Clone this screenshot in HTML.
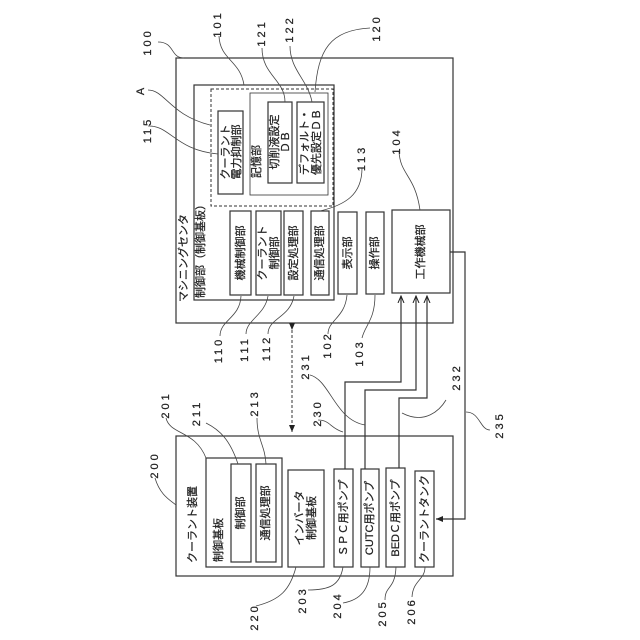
<!DOCTYPE html>
<html><head><meta charset="utf-8"><style>
html,body{margin:0;padding:0;background:#fff}
svg{display:block}
text{font-family:"Liberation Sans","Noto Sans CJK JP",sans-serif;fill:#222;stroke:#222;stroke-width:0.25}
</style></head><body>
<svg width="640" height="640" viewBox="0 0 640 640" xmlns="http://www.w3.org/2000/svg">
<defs>
<marker id="ar" markerWidth="8" markerHeight="8" refX="7" refY="4" orient="auto" markerUnits="userSpaceOnUse"><path d="M0,1 L7,4 L0,7" fill="none" stroke="#222" stroke-width="1"/></marker>
<marker id="af" markerWidth="8" markerHeight="8" refX="7" refY="4" orient="auto" markerUnits="userSpaceOnUse"><path d="M0,1 L7,4 L0,7z" fill="#222"/></marker>
</defs>
<g fill="none" stroke="#333" stroke-width="1.2">
<rect x="176" y="58" width="277" height="265"/>
<rect x="194" y="85" width="140" height="215"/>
<rect x="211" y="89" width="122" height="117" stroke-dasharray="3,2" stroke-width="1"/>
<rect x="218" y="111" width="25" height="83"/>
<rect x="250" y="93" width="78" height="102" stroke-width="0.8"/>
<rect x="268" y="102" width="24" height="81"/>
<rect x="297" y="102" width="27" height="81"/>
<rect x="230" y="211" width="21" height="84"/>
<rect x="256" y="211" width="25" height="84"/>
<rect x="284" y="211" width="19" height="84"/>
<rect x="311" y="211" width="18" height="84"/>
<rect x="338" y="212" width="19" height="82"/>
<rect x="366" y="212" width="18" height="82"/>
<rect x="392" y="210" width="58" height="83"/>
<rect x="176" y="436" width="277" height="140"/>
<rect x="206" y="458" width="76" height="109"/>
<rect x="231" y="464" width="20" height="98"/>
<rect x="256" y="464" width="20" height="98"/>
<rect x="288" y="470" width="36" height="97"/>
<rect x="334" y="469" width="19" height="98"/>
<rect x="361" y="469" width="18" height="98"/>
<rect x="386" y="468" width="19" height="99"/>
<rect x="415" y="471" width="19" height="96"/>
<path d="M345,469 V382 H401 V296" marker-end="url(#ar)"/>
<path d="M365,469 V390 H416 V296" marker-end="url(#ar)"/>
<path d="M399,468 V398 H427 V296" marker-end="url(#ar)"/>
<path d="M450,252 H465 V519 H436" marker-end="url(#af)"/>
<path d="M292,330 V432" stroke-dasharray="3,2" stroke-width="1" marker-end="url(#af)" marker-start="url(#af)"/>
</g>
<g fill="none" stroke="#444" stroke-width="0.8">
<path d="M158,42 C175,42 170,58 184,58"/>
<path d="M219,36 C220,60 240,60 244,85"/>
<path d="M262,48 C262,75 285,80 285,102"/>
<path d="M290,46 C290,70 308,80 312,102"/>
<path d="M370,28 C330,30 318,50 315,92"/>
<path d="M148,90 C165,90 170,115 210,125"/>
<path d="M148,126 C170,125 175,150 218,154"/>
<path d="M362,168 C362,195 345,205 320,211"/>
<path d="M399,151 C400,175 415,175 420,210"/>
<path d="M220,336 C220,320 240,318 241,296"/>
<path d="M246,334 C246,320 265,315 268,296"/>
<path d="M268,334 C268,318 290,318 294,296"/>
<path d="M328,334 C328,320 345,318 347,295"/>
<path d="M362,338 C365,325 375,320 375,295"/>
<path d="M310,375 C330,380 335,420 365,425"/>
<path d="M318,420 C330,420 330,428 343,432"/>
<path d="M446,400 C440,410 425,425 402,413"/>
<path d="M466,412 C480,412 480,430 490,430"/>
<path d="M166,418 C170,435 195,430 206,458"/>
<path d="M206,423 C220,430 230,440 238,464"/>
<path d="M257,418 C257,440 265,445 266,464"/>
<path d="M155,478 C160,495 170,500 176,505"/>
<path d="M256,606 C280,600 290,590 296,567"/>
<path d="M308,590 C330,590 340,585 343,567"/>
<path d="M343,603 C360,600 370,590 370,567"/>
<path d="M385,600 C385,585 395,590 396,567"/>
<path d="M412,597 C413,580 425,580 425,567"/>
</g>
<g font-size="11">
<text transform="translate(226,152) rotate(-90)" text-anchor="middle" dominant-baseline="central">クーラント</text>
<text transform="translate(237,152) rotate(-90)" text-anchor="middle" dominant-baseline="central">電力抑制部</text>
<text transform="translate(257,178) rotate(-90)" text-anchor="start" dominant-baseline="central">記憶部</text>
<text transform="translate(275,142) rotate(-90)" text-anchor="middle" dominant-baseline="central">切削液設定</text>
<text transform="translate(286,142) rotate(-90)" text-anchor="middle" dominant-baseline="central">ＤＢ</text>
<text transform="translate(305,142) rotate(-90)" text-anchor="middle" dominant-baseline="central">デフォルト・</text>
<text transform="translate(317,142) rotate(-90)" text-anchor="middle" dominant-baseline="central">優先設定ＤＢ</text>
<text transform="translate(184,302) rotate(-90)" text-anchor="start" dominant-baseline="central">マシニングセンタ</text>
<text transform="translate(201,298) rotate(-90)" text-anchor="start" dominant-baseline="central">制御部（制御基板）</text>
<text transform="translate(241,253) rotate(-90)" text-anchor="middle" dominant-baseline="central">機械制御部</text>
<text transform="translate(263,253) rotate(-90)" text-anchor="middle" dominant-baseline="central">クーラント</text>
<text transform="translate(275,253) rotate(-90)" text-anchor="middle" dominant-baseline="central">制御部</text>
<text transform="translate(294,253) rotate(-90)" text-anchor="middle" dominant-baseline="central">設定処理部</text>
<text transform="translate(320,253) rotate(-90)" text-anchor="middle" dominant-baseline="central">通信処理部</text>
<text transform="translate(348,253) rotate(-90)" text-anchor="middle" dominant-baseline="central">表示部</text>
<text transform="translate(375,253) rotate(-90)" text-anchor="middle" dominant-baseline="central">操作部</text>
<text transform="translate(421,252) rotate(-90)" text-anchor="middle" dominant-baseline="central">工作機械部</text>
<text transform="translate(193,563) rotate(-90)" text-anchor="start" dominant-baseline="central">クーラント装置</text>
<text transform="translate(219,562) rotate(-90)" text-anchor="start" dominant-baseline="central">制御基板</text>
<text transform="translate(241,513) rotate(-90)" text-anchor="middle" dominant-baseline="central">制御部</text>
<text transform="translate(266,513) rotate(-90)" text-anchor="middle" dominant-baseline="central">通信処理部</text>
<text transform="translate(300,518) rotate(-90)" text-anchor="middle" dominant-baseline="central">インバータ</text>
<text transform="translate(312,518) rotate(-90)" text-anchor="middle" dominant-baseline="central">制御基板</text>
<text transform="translate(344,518) rotate(-90)" text-anchor="middle" dominant-baseline="central">ＳＰＣ用ポンプ</text>
<text transform="translate(370,518) rotate(-90)" text-anchor="middle" dominant-baseline="central">CUTC用ポンプ</text>
<text transform="translate(396,518) rotate(-90)" text-anchor="middle" dominant-baseline="central">BEDＣ用ポンプ</text>
<text transform="translate(425,519) rotate(-90)" text-anchor="middle" dominant-baseline="central">クーラントタンク</text>
</g>
<g font-size="11" letter-spacing="3">
<text transform="translate(148,42) rotate(-90)" text-anchor="middle" dominant-baseline="central">100</text>
<text transform="translate(218,24) rotate(-90)" text-anchor="middle" dominant-baseline="central">101</text>
<text transform="translate(262,33) rotate(-90)" text-anchor="middle" dominant-baseline="central">121</text>
<text transform="translate(290,29) rotate(-90)" text-anchor="middle" dominant-baseline="central">122</text>
<text transform="translate(377,28) rotate(-90)" text-anchor="middle" dominant-baseline="central">120</text>
<text transform="translate(141,90) rotate(-90)" text-anchor="middle" dominant-baseline="central">A</text>
<text transform="translate(148,130) rotate(-90)" text-anchor="middle" dominant-baseline="central">115</text>
<text transform="translate(362,158) rotate(-90)" text-anchor="middle" dominant-baseline="central">113</text>
<text transform="translate(397,141) rotate(-90)" text-anchor="middle" dominant-baseline="central">104</text>
<text transform="translate(219,350) rotate(-90)" text-anchor="middle" dominant-baseline="central">110</text>
<text transform="translate(245,349) rotate(-90)" text-anchor="middle" dominant-baseline="central">111</text>
<text transform="translate(267,348) rotate(-90)" text-anchor="middle" dominant-baseline="central">112</text>
<text transform="translate(328,345) rotate(-90)" text-anchor="middle" dominant-baseline="central">102</text>
<text transform="translate(360,353) rotate(-90)" text-anchor="middle" dominant-baseline="central">103</text>
<text transform="translate(306,366) rotate(-90)" text-anchor="middle" dominant-baseline="central">231</text>
<text transform="translate(318,413) rotate(-90)" text-anchor="middle" dominant-baseline="central">230</text>
<text transform="translate(457,377) rotate(-90)" text-anchor="middle" dominant-baseline="central">232</text>
<text transform="translate(500,425) rotate(-90)" text-anchor="middle" dominant-baseline="central">235</text>
<text transform="translate(166,405) rotate(-90)" text-anchor="middle" dominant-baseline="central">201</text>
<text transform="translate(197,413) rotate(-90)" text-anchor="middle" dominant-baseline="central">211</text>
<text transform="translate(255,403) rotate(-90)" text-anchor="middle" dominant-baseline="central">213</text>
<text transform="translate(155,465) rotate(-90)" text-anchor="middle" dominant-baseline="central">200</text>
<text transform="translate(255,617) rotate(-90)" text-anchor="middle" dominant-baseline="central">220</text>
<text transform="translate(303,600) rotate(-90)" text-anchor="middle" dominant-baseline="central">203</text>
<text transform="translate(338,605) rotate(-90)" text-anchor="middle" dominant-baseline="central">204</text>
<text transform="translate(383,613) rotate(-90)" text-anchor="middle" dominant-baseline="central">205</text>
<text transform="translate(412,611) rotate(-90)" text-anchor="middle" dominant-baseline="central">206</text>
</g>
</svg>
</body></html>
